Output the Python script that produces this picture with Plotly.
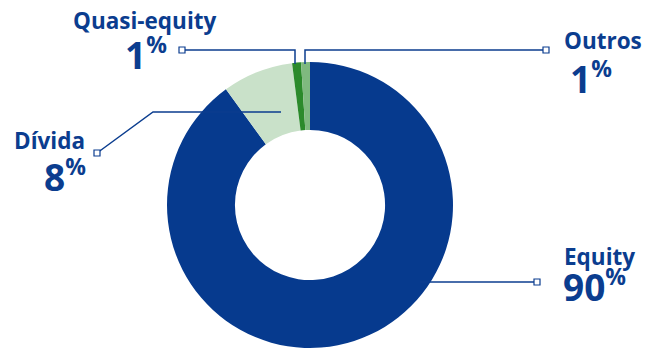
import plotly.graph_objects as go

labels = ["Equity", "Dívida", "Quasi-equity", "Outros"]
values = [90, 8, 1, 1]
colors = ["#063a8e", "#c9e1c9", "#2b8a2b", "#7fb97f"]

W, H = 646, 349
BLUE = "#0b3d8f"

def px(x):
    return x / W

def py(y):
    return 1 - y / H

cx, cy, R = 310, 205, 143

fig = go.Figure(go.Pie(
    labels=labels, values=values, sort=False, direction="clockwise", rotation=0,
    hole=0.525, marker=dict(colors=colors, line=dict(width=0)),
    textinfo="none", hoverinfo="label+percent", showlegend=False,
    domain=dict(x=[px(cx - R), px(cx + R)], y=[py(cy + R), py(cy - R)]),
))

# leader lines (pixel coords)
lines = [
    [(182, 50), (295, 50), (295, 64)],            # Quasi-equity
    [(546, 50), (305, 50), (305, 64)],            # Outros
    [(97, 153), (153, 112), (281, 112)],          # Dívida
    [(537, 282), (420, 282)],                     # Equity
]
shapes = []
for pts in lines:
    path = "M " + " L ".join(f"{px(x)},{py(y)}" for x, y in pts)
    shapes.append(dict(type="path", path=path, xref="paper", yref="paper",
                       line=dict(color=BLUE, width=1.5)))
    x0, y0 = pts[0]
    shapes.append(dict(type="rect", xref="paper", yref="paper",
                       x0=px(x0 - 3), x1=px(x0 + 3), y0=py(y0 + 3), y1=py(y0 - 3),
                       line=dict(color=BLUE, width=1.2), fillcolor="white"))

# label placement: (label x, label y, label anchor, value x, value y, value anchor)
pos = {
    "Quasi-equity": (144.5, 20, "center", 146, 54, "center"),
    "Dívida": (87, 140, "right", 88, 176, "right"),
    "Outros": (562, 41, "left", 568, 78, "left"),
    "Equity": (562, 256, "left", 561, 286, "left"),
}
ann = []
for lab, val in zip(labels, values):
    lx, ly, la, vx, vy, va = pos[lab]
    ann.append(dict(text=f"<b>{lab}</b>", x=px(lx), y=py(ly), xref="paper", yref="paper",
                    xanchor=la, yanchor="middle", showarrow=False,
                    font=dict(family="Open Sans", size=22.5, color=BLUE)))
    ann.append(dict(text=f"<b>{val}<sup><span style='font-size:23px'>%</span></sup></b>",
                    x=px(vx), y=py(vy), xref="paper", yref="paper",
                    xanchor=va, yanchor="middle", showarrow=False,
                    font=dict(family="Open Sans", size=37, color=BLUE)))

fig.update_layout(width=W, height=H, margin=dict(l=0, r=0, t=0, b=0),
                  paper_bgcolor="white", plot_bgcolor="white",
                  shapes=shapes, annotations=ann)
fig.write_html("out.html")
